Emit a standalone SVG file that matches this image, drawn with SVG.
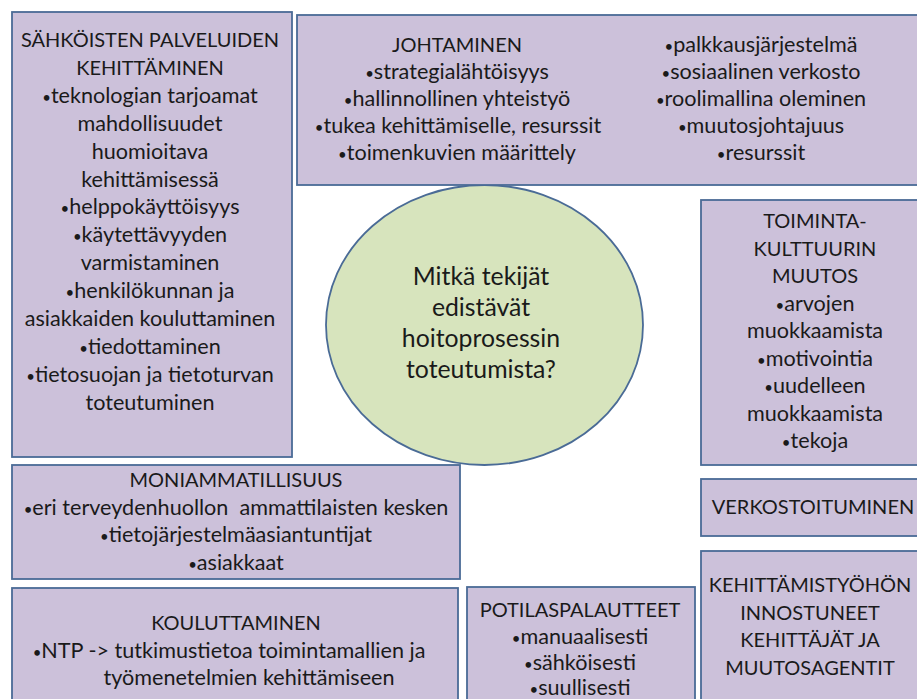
<svg xmlns="http://www.w3.org/2000/svg" width="917" height="699" viewBox="0 0 917 699">
  <style>
    .box { fill: #CCC1DA; stroke: #4A6B96; stroke-width: 1.8; }
    .hub { fill: #D7E4BD; stroke: #4A6B96; stroke-width: 1.8; }
    text { font-family: Lato, "Open Sans", "Liberation Sans", sans-serif; font-size: 21.6px; fill: #1a1a1a; text-anchor: middle; }
    text.cap { font-size: 20px; }
    text.q { font-size: 24.8px; }
    .b { font-size: 15px; }
  </style>
  <rect width="917" height="699" fill="#ffffff"/>

  <!-- central question -->
  <g id="hub">
    <ellipse class="hub" cx="484.5" cy="325" rx="158.5" ry="140"/>
    <text class="q" x="481" y="285">Mitkä tekijät</text>
    <text class="q" x="481" y="316">edistävät</text>
    <text class="q" x="481" y="347">hoitoprosessin</text>
    <text class="q" x="481" y="378">toteutumista?</text>
  </g>

  <g id="sahkoiset-palvelut">
    <rect class="box" x="12" y="12" width="280" height="445"/>
    <text class="cap" x="150" y="47">SÄHKÖISTEN PALVELUIDEN</text>
    <text class="cap" x="150" y="74.9">KEHITTÄMINEN</text>
    <text x="150" y="102.8"><tspan class="b">•</tspan>teknologian tarjoamat</text>
    <text x="150" y="130.7">mahdollisuudet</text>
    <text x="150" y="158.6">huomioitava</text>
    <text x="150" y="186.5">kehittämisessä</text>
    <text x="150" y="214.4"><tspan class="b">•</tspan>helppokäyttöisyys</text>
    <text x="150" y="242.3"><tspan class="b">•</tspan>käytettävyyden</text>
    <text x="150" y="270.2">varmistaminen</text>
    <text x="150" y="298.1"><tspan class="b">•</tspan>henkilökunnan ja</text>
    <text x="150" y="326">asiakkaiden kouluttaminen</text>
    <text x="150" y="353.9"><tspan class="b">•</tspan>tiedottaminen</text>
    <text x="150" y="381.8"><tspan class="b">•</tspan>tietosuojan ja tietoturvan</text>
    <text x="150" y="409.7">toteutuminen</text>
  </g>

  <g id="johtaminen">
    <rect class="box" x="297" y="15" width="640" height="170"/>
    <text class="cap" x="457" y="52">JOHTAMINEN</text>
    <text x="457" y="79"><tspan class="b">•</tspan>strategialähtöisyys</text>
    <text x="457" y="106"><tspan class="b">•</tspan>hallinnollinen yhteistyö</text>
    <text x="458" y="133"><tspan class="b">•</tspan>tukea kehittämiselle, resurssit</text>
    <text x="457" y="160"><tspan class="b">•</tspan>toimenkuvien määrittely</text>
    <text x="761" y="52"><tspan class="b">•</tspan>palkkausjärjestelmä</text>
    <text x="761" y="79"><tspan class="b">•</tspan>sosiaalinen verkosto</text>
    <text x="761" y="106"><tspan class="b">•</tspan>roolimallina oleminen</text>
    <text x="761" y="133"><tspan class="b">•</tspan>muutosjohtajuus</text>
    <text x="761" y="160"><tspan class="b">•</tspan>resurssit</text>
  </g>

  <g id="toimintakulttuuri">
    <rect class="box" x="701" y="200" width="240" height="265"/>
    <text class="cap" x="815" y="228">TOIMINTA-</text>
    <text class="cap" x="815" y="255.5">KULTTUURIN</text>
    <text class="cap" x="815" y="283">MUUTOS</text>
    <text x="815" y="310.5"><tspan class="b">•</tspan>arvojen</text>
    <text x="815" y="338">muokkaamista</text>
    <text x="815" y="365.5"><tspan class="b">•</tspan>motivointia</text>
    <text x="815" y="393"><tspan class="b">•</tspan>uudelleen</text>
    <text x="815" y="420.5">muokkaamista</text>
    <text x="815" y="448"><tspan class="b">•</tspan>tekoja</text>
  </g>

  <g id="verkostoituminen">
    <rect class="box" x="701" y="479" width="240" height="57"/>
    <text class="cap" x="813" y="514">VERKOSTOITUMINEN</text>
  </g>

  <g id="kehittajat">
    <rect class="box" x="701" y="551" width="240" height="160"/>
    <text class="cap" x="810" y="592">KEHITTÄMISTYÖHÖN</text>
    <text class="cap" x="810" y="619.7">INNOSTUNEET</text>
    <text class="cap" x="810" y="647.4">KEHITTÄJÄT JA</text>
    <text class="cap" x="810" y="675.1">MUUTOSAGENTIT</text>
  </g>

  <g id="moniammatillisuus">
    <rect class="box" x="12" y="465" width="448" height="114"/>
    <text class="cap" x="236" y="487">MONIAMMATILLISUUS</text>
    <text x="236" y="515" xml:space="preserve"><tspan class="b">•</tspan>eri terveydenhuollon  ammattilaisten kesken</text>
    <text x="236" y="542"><tspan class="b">•</tspan>tietojärjestelmäasiantuntijat</text>
    <text x="236" y="570"><tspan class="b">•</tspan>asiakkaat</text>
  </g>

  <g id="kouluttaminen">
    <rect class="box" x="12" y="588" width="446" height="120"/>
    <text class="cap" x="236" y="630">KOULUTTAMINEN</text>
    <text x="229" y="658"><tspan class="b">•</tspan>NTP -&gt; tutkimustietoa toimintamallien ja</text>
    <text x="249" y="685">työmenetelmien kehittämiseen</text>
  </g>

  <g id="potilaspalautteet">
    <rect class="box" x="467" y="587" width="228" height="120"/>
    <text class="cap" x="580" y="617">POTILASPALAUTTEET</text>
    <text x="580" y="644"><tspan class="b">•</tspan>manuaalisesti</text>
    <text x="580" y="670"><tspan class="b">•</tspan>sähköisesti</text>
    <text x="580" y="695"><tspan class="b">•</tspan>suullisesti</text>
  </g>

  <!-- no connectors are drawn between the boxes -->
  <g id="connectors"/>
</svg>
